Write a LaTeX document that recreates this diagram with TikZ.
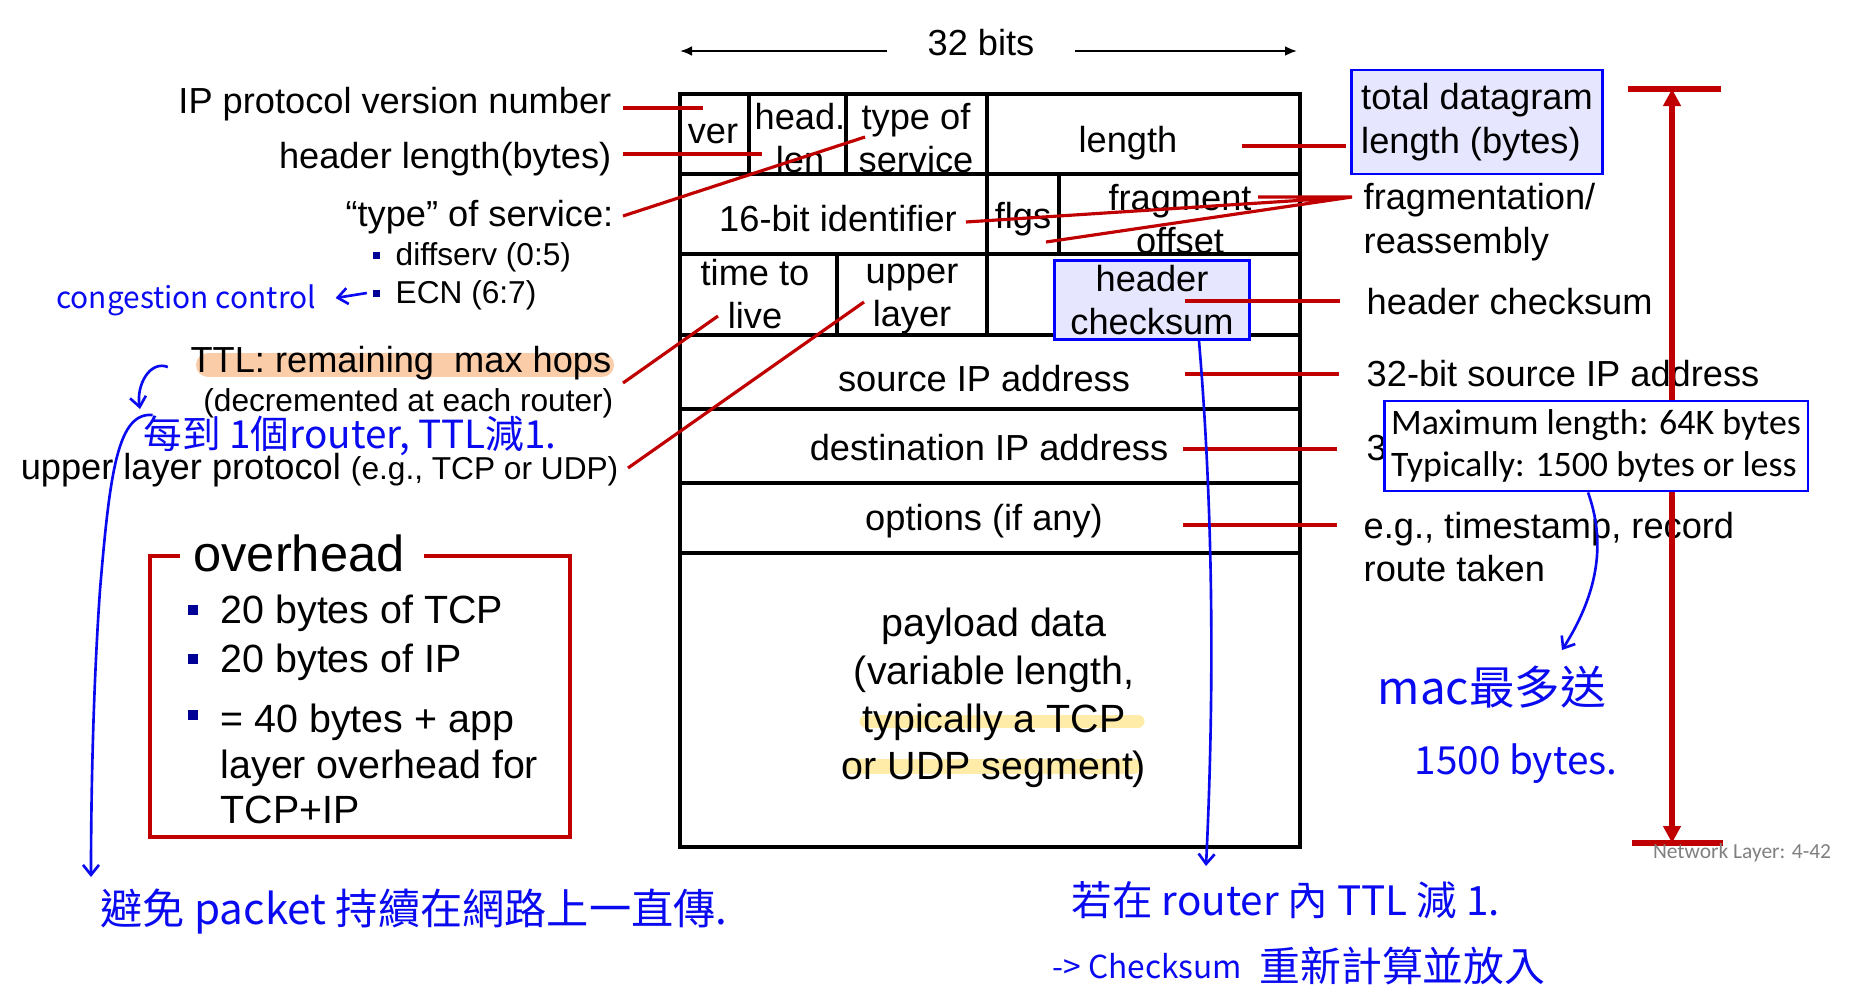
\documentclass[tikz,border=0pt]{standalone}
\usepackage{fontspec}
\setmainfont{Liberation Sans}
\newfontfamily\calibfont{Carlito}
\newfontfamily\handfont{Noto Sans CJK TC}
\usepackage{xcolor}
\definecolor{ipred}{RGB}{192,0,0}
\definecolor{inkblue}{RGB}{10,10,240}
\definecolor{navybul}{RGB}{0,0,150}
\definecolor{boxblue}{RGB}{0,0,255}
\definecolor{boxfill}{RGB}{230,230,255}
\definecolor{hlorange}{RGB}{250,204,168}
\definecolor{hlyellow}{RGB}{255,236,168}
\usetikzlibrary{arrows.meta,calc}
\tikzset{
  field/.style={font=\fontsize{10.3}{12}\selectfont, align=center, inner sep=0pt},
  lbl/.style={font=\fontsize{10.3}{12.4}\selectfont, inner sep=0pt},
  sublbl/.style={font=\fontsize{9}{11}\selectfont, inner sep=0pt},
  ovtxt/.style={font=\fontsize{11.2}{13}\selectfont, inner sep=0pt, anchor=west, align=left},
  tbl/.style={line width=1.1pt},
  leader/.style={ipred, line width=0.9pt},
  ink/.style={inkblue, line width=0.75pt},
  inktxt/.style={text=inkblue, inner sep=0pt, font=\handfont\fontsize{#1}{#1}\selectfont},
  sqbul/.style={fill=navybul, inner sep=0pt, minimum size=#1},
  sqbul/.default=0.07cm,
  bluebox/.style={draw=boxblue, line width=0.8pt, fill=#1, inner sep=0pt},
}

\begin{document}
\begin{tikzpicture}[x=0.01cm, y=-0.01cm]
  \useasboundingbox (0,0) rectangle (1858,1000);
  % highlighter marks
  \draw[hlorange, line width=0.24cm, line cap=round] (208,365) -- (602,365);
  \draw[hlyellow, line width=0.13cm, line cap=round] (866,721) -- (1138,721);
  \draw[hlyellow, line width=0.15cm, line cap=round] (851,766) -- (1134,766);
  % 32 bits
  \node[lbl] (bits) at (981,43) {32 bits};
  \coordinate (wl) at (680,51);
  \coordinate (wr) at (1297,51);
  \draw[line width=0.8pt, -{Latex[length=0.12cm,width=0.1cm]}] ($(bits.west)+(-40,8)$) -- (wl);
  \draw[line width=0.8pt, -{Latex[length=0.12cm,width=0.1cm]}] ($(bits.east)+(40,8)$) -- (wr);
  % datagram frame
  \draw[tbl] (680,94) rectangle (1300,847);
  \foreach \y in {174,254,335,409,483,553}
    \draw[tbl] (680,\y) -- (1300,\y);
  \draw[tbl] (749,94) -- (749,174) (846,94) -- (846,174) (987,94) -- (987,335)
             (1059,174) -- (1059,254) (837,254) -- (837,335);
  % fields
  \node[field] (ver) at (713,134) {ver};
  \node[field] (hlen) at (800,138) {head.\\len};
  \node[field] (tos) at (916,138) {type of\\service};
  \node[field] (len) at (1128,143) {length};
  \node[field] (ident) at (838,219) {16-bit identifier};
  \node[field] (flgs) at (1023,219) {flgs};
  \node[field] (fragoff) at (1180,219) {fragment\\offset};
  \node[field] (ttl) at (755,294) {time to\\live};
  \node[field] (proto) at (912,299) {upper\\layer};
  \node[bluebox=boxfill, field, minimum width=1.95cm, minimum height=0.79cm] (csum) at (1152,300) {header\\checksum};
  \node[field] (srcip) at (984,379) {source IP address};
  \node[field] (dstip) at (989,448) {destination IP address};
  \node[field] (opts) at (984,521) {options (if any)};
  \node[field, font=\fontsize{11.2}{13.6}\selectfont] (payload) at (994,698)
    {payload data\\(variable length,\\typically a TCP\\or UDP segment)};
  % left labels
  \node[lbl, anchor=east] (lver) at (612,104) {IP protocol version number};
  \node[lbl, anchor=east] (lhlen) at (612,159) {header length(bytes)};
  \node[lbl, anchor=east] (ltos) at (614,217) {“type” of service:};
  \node[sublbl, anchor=west] (ldiff) at (395,257) {diffserv (0:5)};
  \node[sublbl, anchor=west] (lecn) at (395,295) {ECN (6:7)};
  \foreach \n in {ldiff,lecn}
    \node[sqbul] (b-\n) at ($(\n.west)+(-19,-2)$) {};
  \node[lbl, anchor=east] (lttl) at (612,363) {TTL: remaining\ \ max hops};
  \node[sublbl, anchor=east] (ldecr) at (614,403) {(decremented at each router)};
  \node[anchor=east, inner sep=0pt] (lproto) at (619,470)
    {\fontsize{10.3}{12}\selectfont upper layer protocol \fontsize{9}{11}\selectfont(e.g., TCP or UDP)};
  % overhead box
  \node[font=\fontsize{14.4}{17}\selectfont, inner sep=0pt] (ovh) at (299,553) {overhead};
  \draw[ipred, line width=1pt] ($(ovh.west)+(-13,3)$) -| (150,837) -| (570,556) -- ($(ovh.east)+(19,3)$);
  \node[ovtxt] (ov1) at (220,613) {20 bytes of TCP};
  \node[ovtxt] (ov2) at (220,662) {20 bytes of IP};
  \node[ovtxt] (ov3) at (220,764) {= 40 bytes + app\\layer overhead for\\TCP+IP};
  \foreach \n in {ov1,ov2}
    \node[sqbul=0.095cm] (b-\n) at ($(\n.west)+(-27,-3)$) {};
  \node[sqbul=0.095cm] (b-ov3) at (193,715) {};
  % right labels
  \node[bluebox=boxfill, lbl, inner xsep=0.1cm, align=left, minimum height=1.04cm] (rlen) at (1477,122)
    {total datagram\\length (bytes)};
  \node[lbl, anchor=west, align=left] (rfrag) at (1363,222) {fragmentation/\\reassembly};
  \node[lbl, anchor=west] (rcsum) at (1366,302) {header checksum};
  \node[lbl, anchor=west] (rsrc) at (1366,374) {32-bit source IP address};
  \begin{scope}
    \clip (1340,420) rectangle (1795,480);
    \node[lbl, anchor=west] (rdst) at (1366,448) {32-bit destination IP address};
  \end{scope}
  \node[lbl, anchor=west, align=left] (ropts) at (1363,547) {e.g., timestamp, record\\route taken};
  % leaders
  \coordinate (pver) at (703,108);
  \coordinate (phlen) at (762,154);
  \coordinate (ptos) at (865,137);
  \coordinate (pttl) at (718,316);
  \coordinate (pproto) at (864,302);
  \coordinate (plen) at (1242,146);
  \coordinate (pfrag) at (1352,197);
  \coordinate (pfr1) at (1258,197);
  \coordinate (pfr2) at (966,222);
  \coordinate (pfr3) at (1046,242);
  \coordinate (pcsum) at (1185,301);
  \coordinate (psrc) at (1185,374);
  \coordinate (pdst) at (1183,449);
  \coordinate (popt) at (1183,525);
  \draw[leader] ($(lver.east)+(11,4)$) -- (pver);
  \draw[leader] ($(lhlen.east)+(11,-5)$) -- (phlen);
  \draw[leader] ($(ltos.east)+(9,-1)$) -- (ptos);
  \draw[leader] ($(lttl.east)+(11,20)$) -- (pttl);
  \draw[leader] ($(lproto.east)+(9,-2)$) -- (pproto);
  \draw[leader] (plen) -- ($(plen -| rlen.west)+(-4,0)$);
  \draw[leader] (pfrag) -- (pfr1) (pfrag) -- (pfr2) (pfrag) -- (pfr3);
  \draw[leader] (pcsum) -- ($(rcsum.west)+(-26,-1)$);
  \draw[leader] (psrc) -- ($(rsrc.west)+(-27,0)$);
  \draw[leader] (pdst) -- ($(rdst.west)+(-29,1)$);
  \draw[leader] (popt) -- ($(popt -| ropts.west)+(-26,0)$);
  % total length span
  \coordinate (spt) at (1672,89);
  \coordinate (spb) at (1672,843);
  \draw[ipred, line width=1.8pt, {Triangle[length=0.17cm,width=0.17cm]}-{Triangle[length=0.17cm,width=0.17cm]}] (spt) -- (spb);
  \draw[ipred, line width=1.8pt] ($(spt)+(-44,0)$) -- ($(spt)+(49,0)$) ($(spb)+(-40,0)$) -- ($(spb)+(51,0)$);
  % max length box
  \node[bluebox=white, font=\calibfont\fontsize{10.2}{12}\selectfont, inner xsep=0.07cm, align=left, minimum height=0.9cm] (maxb) at (1596,446)
    {Maximum length: 64K bytes\\Typically: 1500 bytes or less};
  \node[font=\calibfont\fontsize{6.1}{7}\selectfont, text=gray, inner sep=0pt] (foot) at (1742,853) {Network Layer: 4-42};
  % handwritten notes
  \node[inktxt=8.5] (nCong) at (186,300) {congestion control};
  \draw[ink, -{Straight Barb[length=0.1cm,width=0.16cm]}] ($(b-lecn.west)+(-5,0)$) -- ($(nCong.east)+(19,-2)$);
  \node[inktxt=11] (nEach) at (350,436) {每到 1個router, TTL減1.};
  \draw[ink, -{Straight Barb[length=0.1cm,width=0.16cm]}] ($(lttl.west)+(-22,4)$) .. controls (150,360) and (136,385) .. (140,409);
  \draw[ink, -{Straight Barb[length=0.1cm,width=0.16cm]}] ($(nEach.west)+(10,-21)$) .. controls (118,412) and (110,470) .. (100,590)
    .. controls (93,690) and (91,800) .. (91,877);
  \node[inktxt=12] (nAvoid) at (414,912) {避免 packet 持續在網路上一直傳.};
  \draw[ink, -{Straight Barb[length=0.1cm,width=0.16cm]}] ($(csum.south)+(47,0)$) .. controls (1214,520) and (1214,700) .. (1206,866);
  \node[inktxt=11.5] (nRouter) at (1286,900) {若在 router 內 TTL 減 1.};
  \node[inktxt=9, anchor=west] (nCk) at (1052,966) {-> Checksum};
  \node[inktxt=11.6, anchor=west] (nRecalc) at ($(nCk.east)+(16,0)$) {重新計算並放入};
  \draw[ink, -{Straight Barb[length=0.1cm,width=0.16cm]}] ($(maxb.south)+(-8,0)$) .. controls (1605,540) and (1600,590) .. (1562,650);
  \node[inktxt=13] (nMac) at (1492,687) {mac最多送};
  \node[inktxt=11] (nMtu) at (1516,764) {1500 bytes.};
\end{tikzpicture}
\end{document}
